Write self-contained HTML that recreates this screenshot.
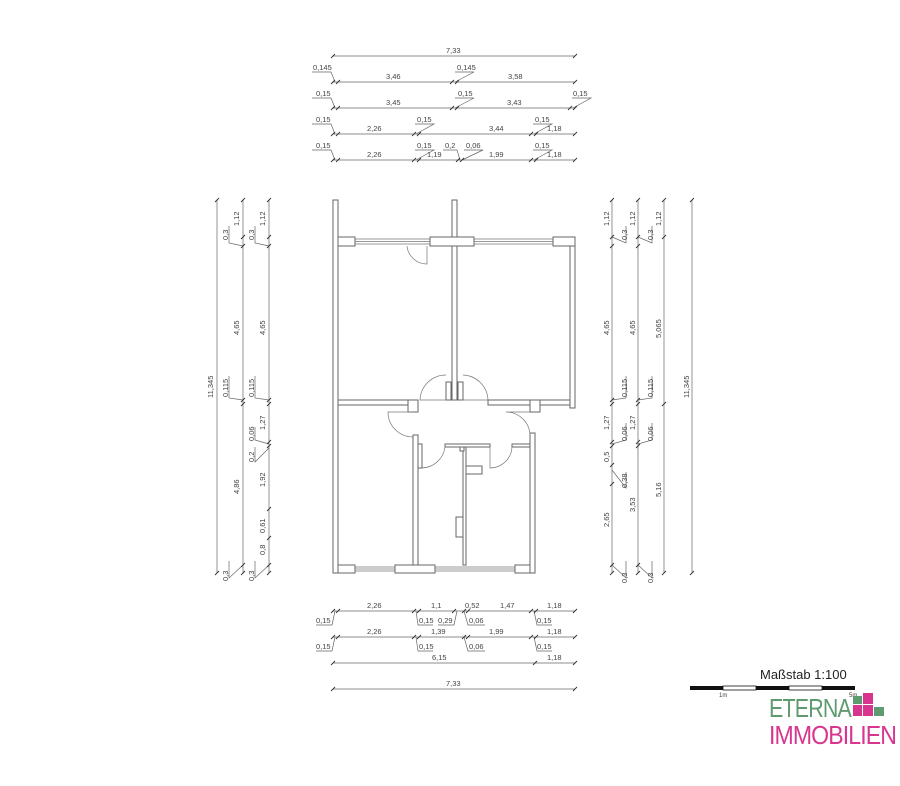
<!DOCTYPE html>
<html><head><meta charset="utf-8"><style>
html,body{margin:0;padding:0;background:#fff}
svg{display:block}
text{font-family:"Liberation Sans",sans-serif;font-size:7.5px;fill:#444}
.d line,.d polyline{stroke:#666;stroke-width:0.7;fill:none}
.w{fill:#fff;stroke:#666;stroke-width:1}
.t{stroke:#333;stroke-width:0.9}
</style></head><body>
<svg width="900" height="786" viewBox="0 0 900 786" xmlns="http://www.w3.org/2000/svg">
<g class="d">
<!-- top dims -->
<line x1="333" y1="56" x2="575" y2="56"/>
<line x1="333" y1="82" x2="575" y2="82"/>
<line x1="333" y1="108" x2="575" y2="108"/>
<line x1="333" y1="134" x2="575" y2="134"/>
<line x1="333" y1="160" x2="575" y2="160"/>
<polyline points="312,72 331,72 335,82"/><polyline points="455,72 474,72 455,82"/>
<polyline points="312,98 331,98 335,108"/><polyline points="455,98 474,98 455,108"/><polyline points="572,98 591,98 573,108"/>
<polyline points="312,124 331,124 335,134"/><polyline points="415,124 434,124 416,134"/><polyline points="533,124 552,124 534,134"/>
<polyline points="312,150 331,150 335,160"/><polyline points="415,150 434,150 416,160"/><polyline points="443,150 457,150 460,160"/><polyline points="464,150 483,150 462,160"/><polyline points="533,150 552,150 534,160"/>
<!-- bottom dims -->
<line x1="333" y1="611" x2="575" y2="611"/>
<line x1="333" y1="637" x2="575" y2="637"/>
<line x1="333" y1="663" x2="575" y2="663"/>
<line x1="333" y1="689" x2="575" y2="689"/>
<polyline points="316,625 332,625 335,611"/><polyline points="433,625 418,625 416,611"/><polyline points="438,625 454,625 457,611"/><polyline points="485,625 468,625 464,611"/><polyline points="552,625 537,625 534,611"/>
<polyline points="316,651 332,651 335,637"/><polyline points="433,651 418,651 416,637"/><polyline points="485,651 468,651 464,637"/><polyline points="552,651 537,651 534,637"/>
<!-- left verticals -->
<line x1="217" y1="200" x2="217" y2="573"/>
<line x1="243" y1="200" x2="243" y2="573"/>
<line x1="269" y1="200" x2="269" y2="573"/>
<polyline points="229,226 229,243 243,246"/><polyline points="229,376 229,398 243,400"/><polyline points="229,561 229,578 243,565"/>
<polyline points="255,226 255,243 269,246"/><polyline points="255,376 255,398 269,400"/><polyline points="255,427 255,440 269,444"/><polyline points="255,447 255,462 269,448"/><polyline points="255,561 255,578 269,565"/>
<!-- right verticals -->
<line x1="612" y1="200" x2="612" y2="573"/>
<line x1="638" y1="200" x2="638" y2="573"/>
<line x1="664" y1="200" x2="664" y2="573"/>
<line x1="692" y1="200" x2="692" y2="573"/>
<polyline points="626,226 626,243 612,237"/><polyline points="626,376 626,398 612,400"/><polyline points="626,423 626,440 612,444"/><polyline points="626,472 626,488 612,470"/><polyline points="626,561 626,578 612,565"/>
<polyline points="652,226 652,243 638,237"/><polyline points="652,376 652,398 638,400"/><polyline points="652,423 652,440 638,444"/><polyline points="652,561 652,578 638,565"/>
</g>
<g class="t">
<!-- ticks top -->
<path d="M331,58l4,-4M573,58l4,-4
M331,84l4,-4M336,84l4,-4M450,84l4,-4M455,84l4,-4M573,84l4,-4
M331,110l4,-4M336,110l4,-4M450,110l4,-4M455,110l4,-4M568,110l4,-4M573,110l4,-4
M331,136l4,-4M336,136l4,-4M412,136l4,-4M417,136l4,-4M529,136l4,-4M534,136l4,-4M573,136l4,-4
M331,162l4,-4M336,162l4,-4M412,162l4,-4M417,162l4,-4M456,162l4,-4M460,162l4,-4M529,162l4,-4M534,162l4,-4M573,162l4,-4
M331,613l4,-4M336,613l4,-4M412,613l4,-4M417,613l4,-4M452,613l4,-4M462,613l4,-4M466,613l4,-4M529,613l4,-4M534,613l4,-4M573,613l4,-4
M331,639l4,-4M336,639l4,-4M412,639l4,-4M417,639l4,-4M462,639l4,-4M466,639l4,-4M529,639l4,-4M534,639l4,-4M573,639l4,-4
M331,665l4,-4M533,665l4,-4M573,665l4,-4M331,691l4,-4M573,691l4,-4
M215,202l4,-4M215,575l4,-4
M241,202l4,-4M241,239l4,-4M241,248l4,-4M241,402l4,-4M241,406l4,-4M241,567l4,-4M241,575l4,-4
M267,202l4,-4M267,239l4,-4M267,248l4,-4M267,402l4,-4M267,406l4,-4M267,444l4,-4M267,448l4,-4M267,511l4,-4M267,540l4,-4M267,567l4,-4M267,575l4,-4
M610,202l4,-4M610,239l4,-4M610,248l4,-4M610,402l4,-4M610,406l4,-4M610,444l4,-4M610,448l4,-4M610,467l4,-4M610,486l4,-4M610,567l4,-4M610,575l4,-4
M636,202l4,-4M636,239l4,-4M636,248l4,-4M636,402l4,-4M636,406l4,-4M636,444l4,-4M636,448l4,-4M636,567l4,-4M636,575l4,-4
M662,202l4,-4M662,239l4,-4M662,406l4,-4M662,575l4,-4
M690,202l4,-4M690,575l4,-4" fill="none"/>
</g>
<!-- top texts -->
<text x="446" y="53">7,33</text>
<text x="313" y="70">0,145</text><text x="386" y="79">3,46</text><text x="457" y="70">0,145</text><text x="508" y="79">3,58</text>
<text x="316" y="96">0,15</text><text x="386" y="105">3,45</text><text x="458" y="96">0,15</text><text x="507" y="105">3,43</text><text x="573" y="96">0,15</text>
<text x="316" y="122">0,15</text><text x="367" y="131">2,26</text><text x="417" y="122">0,15</text><text x="489" y="131">3,44</text><text x="535" y="122">0,15</text><text x="547" y="131">1,18</text>
<text x="316" y="148">0,15</text><text x="367" y="157">2,26</text><text x="417" y="148">0,15</text><text x="427" y="157">1,19</text><text x="445" y="148">0,2</text><text x="466" y="148">0,06</text><text x="489" y="157">1,99</text><text x="535" y="148">0,15</text><text x="547" y="157">1,18</text>
<!-- bottom texts -->
<text x="367" y="608">2,26</text><text x="431" y="608">1,1</text><text x="465" y="608">0,52</text><text x="500" y="608">1,47</text><text x="547" y="608">1,18</text>
<text x="316" y="623">0,15</text><text x="419" y="623">0,15</text><text x="438" y="623">0,29</text><text x="469" y="623">0,06</text><text x="537" y="623">0,15</text>
<text x="367" y="634">2,26</text><text x="431" y="634">1,39</text><text x="489" y="634">1,99</text><text x="547" y="634">1,18</text>
<text x="316" y="649">0,15</text><text x="419" y="649">0,15</text><text x="469" y="649">0,06</text><text x="537" y="649">0,15</text>
<text x="432" y="660">6,15</text><text x="547" y="660">1,18</text>
<text x="446" y="686">7,33</text>
<!-- left vertical texts -->
<g>
<text transform="translate(213,398) rotate(-90)">11,345</text>
<text transform="translate(228,240) rotate(-90)">0,3</text>
<text transform="translate(239,335) rotate(-90)">4,65</text>
<text transform="translate(228,397) rotate(-90)">0,115</text>
<text transform="translate(239,494) rotate(-90)">4,86</text>
<text transform="translate(228,581) rotate(-90)">0,3</text>
<text transform="translate(265,226) rotate(-90)">1,12</text>
<text transform="translate(254,240) rotate(-90)">0,3</text>
<text transform="translate(265,335) rotate(-90)">4,65</text>
<text transform="translate(254,397) rotate(-90)">0,115</text>
<text transform="translate(265,430) rotate(-90)">1,27</text>
<text transform="translate(254,441) rotate(-90)">0,06</text>
<text transform="translate(254,462) rotate(-90)">0,2</text>
<text transform="translate(265,487) rotate(-90)">1,92</text>
<text transform="translate(265,533) rotate(-90)">0,61</text>
<text transform="translate(265,555) rotate(-90)">0,8</text>
<text transform="translate(254,581) rotate(-90)">0,3</text>
<text transform="translate(239,226) rotate(-90)">1,12</text>
</g>
<!-- right vertical texts -->
<g>
<text transform="translate(609,226) rotate(-90)">1,12</text>
<text transform="translate(627,240) rotate(-90)">0,3</text>
<text transform="translate(609,335) rotate(-90)">4,65</text>
<text transform="translate(627,397) rotate(-90)">0,115</text>
<text transform="translate(609,430) rotate(-90)">1,27</text>
<text transform="translate(627,441) rotate(-90)">0,06</text>
<text transform="translate(609,462) rotate(-90)">0,5</text>
<text transform="translate(627,488) rotate(-90)">0,38</text>
<text transform="translate(609,527) rotate(-90)">2,65</text>
<text transform="translate(627,583) rotate(-90)">0,3</text>
<text transform="translate(635,226) rotate(-90)">1,12</text>
<text transform="translate(653,240) rotate(-90)">0,3</text>
<text transform="translate(635,335) rotate(-90)">4,65</text>
<text transform="translate(653,397) rotate(-90)">0,115</text>
<text transform="translate(635,430) rotate(-90)">1,27</text>
<text transform="translate(653,441) rotate(-90)">0,06</text>
<text transform="translate(635,512) rotate(-90)">3,53</text>
<text transform="translate(653,583) rotate(-90)">0,3</text>
<text transform="translate(661,226) rotate(-90)">1,12</text>
<text transform="translate(661,338) rotate(-90)">5,065</text>
<text transform="translate(661,497) rotate(-90)">5,16</text>
<text transform="translate(689,398) rotate(-90)">11,345</text>
</g>
<!-- floor plan walls -->
<g>
<rect class="w" x="333" y="200" width="5" height="373"/>
<rect class="w" x="452" y="200" width="5" height="200"/>
<rect class="w" x="338" y="237" width="17" height="9"/>
<rect class="w" x="430" y="237" width="44" height="9"/>
<rect class="w" x="553" y="237" width="22" height="9"/>
<rect class="w" x="570" y="246" width="5" height="162"/>
<rect class="w" x="338" y="400" width="75" height="5"/>
<rect class="w" x="408" y="400" width="10" height="12"/>
<rect class="w" x="488" y="400" width="82" height="5"/>
<rect class="w" x="530" y="400" width="10" height="12"/>
<rect class="w" x="413" y="435" width="5" height="130"/>
<rect class="w" x="530" y="433" width="5" height="140"/>
<rect class="w" x="418" y="444" width="4" height="24"/>
<rect class="w" x="445" y="444" width="45" height="3"/>
<rect class="w" x="512" y="444" width="18" height="3"/>
<rect class="w" x="463" y="447" width="3" height="118"/>
<rect class="w" x="338" y="565" width="17" height="8"/>
<rect class="w" x="395" y="565" width="40" height="8"/>
<rect class="w" x="515" y="565" width="15" height="8"/>
<rect class="w" x="446" y="382" width="5" height="18"/>
<rect class="w" x="458" y="382" width="5" height="18"/>
<rect class="w" x="466" y="466" width="16" height="8"/>
<rect class="w" x="456" y="517" width="7" height="20"/>
<rect class="w" x="460" y="447" width="4" height="4"/>
</g>
<!-- windows -->
<g stroke="#777" stroke-width="0.8" fill="none">
<line x1="355" y1="239" x2="430" y2="239"/><line x1="355" y1="244" x2="430" y2="244"/><line x1="355" y1="241.5" x2="430" y2="241.5"/>
<line x1="474" y1="239" x2="553" y2="239"/><line x1="474" y1="244" x2="553" y2="244"/><line x1="474" y1="241.5" x2="553" y2="241.5"/>
<line x1="355" y1="567" x2="395" y2="567"/><line x1="355" y1="571" x2="395" y2="571"/><line x1="355" y1="569" x2="395" y2="569"/>
<line x1="435" y1="567" x2="515" y2="567"/><line x1="435" y1="571" x2="515" y2="571"/><line x1="435" y1="569" x2="515" y2="569"/>
</g>
<!-- doors -->
<g stroke="#777" stroke-width="0.7" fill="none">
<path d="M427,246 L427,264 A20,20 0 0 1 407,246"/>
<path d="M446,375 A26,26 0 0 0 420,400 L446,400"/>
<path d="M463,375 A26,26 0 0 1 488,400 L463,400"/>
<path d="M413,412 L388,412 A25,25 0 0 0 413,437"/>
<path d="M530,412 L506,412 A24,24 0 0 1 530,436"/>
<path d="M421,468 A24,24 0 0 0 445,447"/>
<path d="M512,447 A22,22 0 0 1 490,468 L490,447"/>
</g>
<!-- scale -->
<rect x="690" y="686" width="33" height="4" fill="#111"/>
<rect x="723" y="686" width="33" height="4" fill="#fff" stroke="#111" stroke-width="0.8"/>
<rect x="756" y="686" width="33" height="4" fill="#111"/>
<rect x="789" y="686" width="33" height="4" fill="#fff" stroke="#111" stroke-width="0.8"/>
<rect x="822" y="686" width="33" height="4" fill="#111"/>
<text x="760" y="679" style="font-size:13px;fill:#222">Maßstab 1:100</text>
<text x="719" y="697" style="font-size:6px">1m</text>
<text x="849" y="697" style="font-size:6px">5m</text>
<!-- logo -->
<text x="769" y="717" style="font-size:26px;fill:#5f9b70;letter-spacing:-1px" textLength="82" lengthAdjust="spacingAndGlyphs">ETERNA</text>
<text x="769" y="744" style="font-size:26px;fill:#d8358f;letter-spacing:-1px" textLength="127" lengthAdjust="spacingAndGlyphs">IMMOBILIEN</text>
<rect x="853" y="696" width="9" height="8" fill="#5f9b70"/>
<rect x="863" y="693" width="10" height="11" fill="#d8358f"/>
<rect x="853" y="705" width="9" height="11" fill="#d8358f"/>
<rect x="863" y="705" width="10" height="11" fill="#d8358f"/>
<rect x="874" y="707" width="10" height="9" fill="#5f9b70"/>
</svg>
</body></html>
